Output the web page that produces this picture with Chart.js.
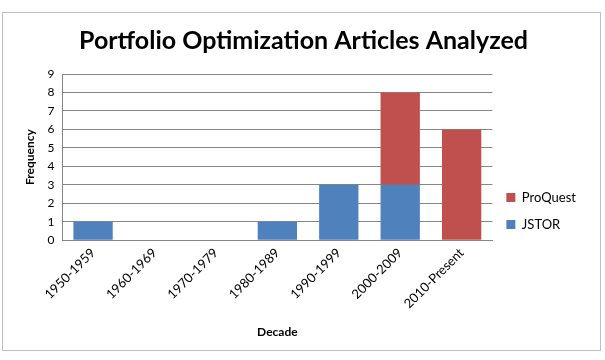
<!DOCTYPE html>
<html>
<head>
<meta charset="utf-8">
<script src="https://cdn.jsdelivr.net/npm/chart.js@4/dist/chart.umd.min.js"></script>
<style>
  html, body { margin: 0; padding: 0; background: #fff; }
  #frame {
    position: absolute; left: 2px; top: 12px;
    width: 597px; height: 337px;
    border: 1px solid #bfbfbf;
  }
</style>
</head>
<body>
<div id="frame"><canvas id="chart" width="597" height="337"></canvas></div>
<script>
// chart data
const decades = ['1950-1959', '1960-1969', '1970-1979', '1980-1989', '1990-1999', '2000-2009', '2010-Present'];
const jstor = [1, 0, 0, 1, 3, 3, 0];
const proquest = [0, 0, 0, 0, 0, 5, 6];
const yTicks = [0, 1, 2, 3, 4, 5, 6, 7, 8, 9];

const font = "Lato, 'Open Sans', sans-serif";

new Chart(document.getElementById('chart').getContext('2d'), {
    type: 'bar',
    data: {
        labels: decades,
        datasets: [
            {
                label: 'JSTOR',
                data: jstor,
                backgroundColor: '#4f81bd',
                categoryPercentage: 1,
                barPercentage: 0.64
            },
            {
                label: 'ProQuest',
                data: proquest,
                backgroundColor: '#c0504d',
                categoryPercentage: 1,
                barPercentage: 0.64
            }
        ]
    },
    options: {
        responsive: false,
        animation: false,
        layout: { padding: { left: 18, right: 14, top: 4, bottom: 11 } },
        plugins: {
            title: {
                display: true,
                text: 'Portfolio Optimization Articles Analyzed',
                color: '#000',
                font: { family: font, size: 25, weight: 'bold' },
                padding: { top: 9, bottom: 18 }
            },
            legend: {
                position: 'right',
                reverse: true,
                title: { display: true, text: ' ', padding: { top: 54, bottom: 0 }, font: { size: 10 } },
                labels: {
                    boxWidth: 9, boxHeight: 9,
                    color: '#000',
                    padding: 14,
                    font: { family: font, size: 13 }
                }
            },
            tooltip: { enabled: false }
        },
        scales: {
            x: {
                stacked: true,
                grid: { display: false, drawTicks: false },
                border: { color: '#868686' },
                ticks: {
                    color: '#000',
                    maxRotation: 45, minRotation: 45,
                    font: { family: font, size: 13 },
                    padding: 5
                },
                title: {
                    display: true, text: 'Decade', color: '#000',
                    font: { family: font, size: 12, weight: 'bold' },
                    padding: { top: 8, bottom: 0 }
                }
            },
            y: {
                stacked: true,
                min: 0, max: 9,
                afterBuildTicks: axis => { axis.ticks = yTicks.map(v => ({ value: v })); },
                grid: { color: '#868686', drawTicks: false },
                border: { color: '#868686' },
                ticks: {
                    color: '#000',
                    font: { family: font, size: 12 },
                    padding: 8
                },
                title: {
                    display: true, text: 'Frequency', color: '#000',
                    font: { family: font, size: 12, weight: 'bold' },
                    padding: 2
                }
            }
        }
    }
});
</script>
</body>
</html>
